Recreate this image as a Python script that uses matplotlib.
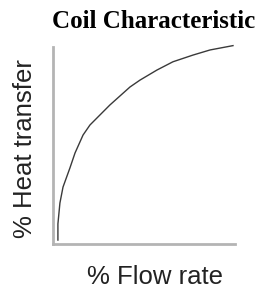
"""Coil characteristic: % heat transfer vs % flow rate."""

import matplotlib

matplotlib.use("Agg")
import matplotlib.pyplot as plt  # noqa: E402

# values (percent of axis range)
flow = [2.7, 2.7, 3.8, 5.5, 9.3, 12.1, 16.5, 20.3, 31.3, 42.3, 47.8,
        57.1, 65.9, 76.9, 86.3, 98.9]
heat = [2.0, 10.2, 20.8, 28.9, 38.6, 46.2, 55.3, 60.4, 70.6, 79.7, 83.2,
        88.3, 92.5, 95.9, 98.5, 100.7]
title = "Coil Characteristic"
xlabel = "% Flow rate"
ylabel = "% Heat transfer"

W, H = 262, 288
fig = plt.figure(figsize=(W / 100, H / 100), dpi=100)
ax = fig.add_axes([53 / W, (H - 244) / H, (235 - 53) / W, (244 - 47) / H])
ax.plot(flow, heat, color="#3a3a3a", lw=1.0, clip_on=False)
ax.set_xlim(0, 100)
ax.set_ylim(0, 100)
ax.set_xticks([])
ax.set_yticks([])
for side in ("top", "right"):
    ax.spines[side].set_visible(False)
for side in ("left", "bottom"):
    ax.spines[side].set_color("#b4b4b4")
    ax.spines[side].set_linewidth(2.0)

fig.text(154 / W, 1 - 28 / H, title, ha="center", va="baseline",
         fontsize=18, fontweight="bold", family="Liberation Serif")
fig.text(155 / W, 1 - 284 / H, xlabel, ha="center", va="baseline",
         fontsize=18.5, family="Liberation Sans", color="#222222")
fig.text(25 / W, 1 - 148.5 / H, ylabel, ha="center", va="center",
         rotation=90, fontsize=18.5, family="Liberation Sans", color="#222222")

fig.savefig("out.png", dpi=100)
